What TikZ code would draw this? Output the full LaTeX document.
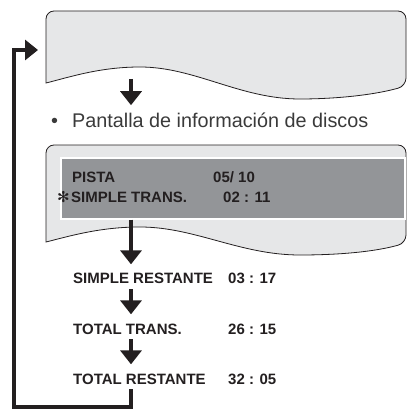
\documentclass[tikz,border=0pt]{standalone}
\usepackage{fontspec}
\setmainfont{Liberation Sans}
\newfontfamily\symfont{DejaVu Sans}
\usetikzlibrary{arrows.meta,calc}
\definecolor{panelgray}{HTML}{E6E7E8}
\definecolor{lcdgray}{HTML}{939598}
\definecolor{inkdark}{HTML}{231F20}
\definecolor{inkquiet}{HTML}{3A3A3A}

\begin{document}
\begin{tikzpicture}[x=1pt, y=-1pt,
  font=\fontsize{15}{17}\selectfont\bfseries, text=inkdark,
  panel/.style={draw=inkdark, fill=panelgray, line width=0.8pt},
  lcd/.style={draw=white, fill=lcdgray, line width=1.5pt, inner sep=0pt, anchor=north west},
  lbl/.style={anchor=base west, inner sep=0pt},
  flow/.style={-{Triangle[length=14pt,width=21pt]}, line width=4pt, draw=inkdark},
  backflow/.style={flow, -{Triangle[length=13pt,width=20pt]}},
]
  \useasboundingbox (0,0) rectangle (407,409);
  % the two screens
  \draw[panel, rounded corners=8pt] (46,83) -- (46,11) -- (406,11) -- (406,86) [sharp corners]
    .. controls (370,96) and (330,99) .. (300,99) .. controls (240,99) and (195,67) .. (140,67)
    .. controls (100,67) and (70,77) .. (46,83) -- cycle;
  \draw[panel, rounded corners=8pt] (46,242) -- (46,145) -- (406,145) -- (406,243) [sharp corners]
    .. controls (370,253) and (330,255) .. (300,255) .. controls (240,255) and (195,227) .. (140,227)
    .. controls (100,227) and (70,236) .. (46,242) -- cycle;
  \node[lcd, minimum width=344pt, minimum height=61pt] (lcd) at (60,157) {};
  \coordinate (ax) at (131,0);
  \coordinate (scr) at (131,79);
  \coordinate (scrin) at (38,50);
  % texts
  \node[lbl, font=\fontsize{19.8}{22}\selectfont\mdseries, text=inkquiet] (bul) at (51,127) {•};
  \node[lbl, font=\fontsize{19.8}{22}\selectfont\mdseries, text=inkquiet] (info) at (72,127) {Pantalla de información de discos};
  \node[lbl] (pista) at (72,182) {PISTA};
  \node[lbl] (pistanum) at (213,182) {05/ 10};
  \node[lbl] (st) at (71,202) {SIMPLE TRANS.};
  \node[lbl] (stnum) at (223,202) {02 : 11};
  \node[anchor=east, inner sep=0pt, font=\symfont\fontsize{15}{17}\selectfont] (star) at ([xshift=-1pt]st.west) {✻};
  \node[lbl] (sr) at (73,283) {SIMPLE RESTANTE};
  \node[lbl] (srnum) at (228,283) {03 : 17};
  \node[lbl] (tt) at (73,334) {TOTAL TRANS.};
  \node[lbl] (ttnum) at (228,334) {26 : 15};
  \node[lbl] (tr) at (73,384) {TOTAL RESTANTE};
  \node[lbl] (trnum) at (228,384) {32 : 05};
  % arrows
  \draw[flow] (scr) -- ([yshift=7pt]info.north -| ax);
  \draw[flow] (lcd.south -| ax) -- ([yshift=8pt]sr.north -| ax);
  \draw[flow] ([yshift=-6pt]sr.south -| ax) -- ([yshift=9pt]tt.north -| ax);
  \draw[flow] ([yshift=-5pt]tt.south -| ax) -- ([yshift=9pt]tr.north -| ax);
  \draw[backflow] ([yshift=-5pt]tr.south -| ax) -- ++(0,18) -| (14,50) -- (scrin);
\end{tikzpicture}
\end{document}
